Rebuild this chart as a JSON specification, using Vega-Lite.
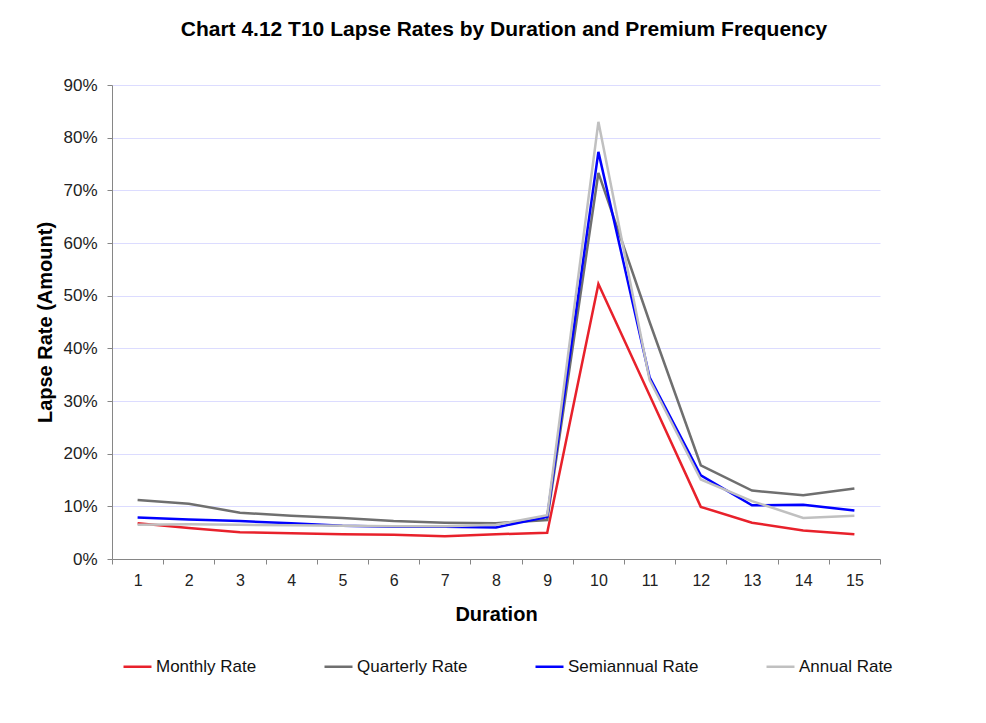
{
  "$schema": "https://vega.github.io/schema/vega-lite/v6.json",
  "width": 768,
  "height": 474,
  "autosize": {"type": "none"},
  "padding": {"left": 112, "top": 85, "right": 106, "bottom": 164},
  "background": "white",
  "view": {"stroke": null},
  "config": {"font": "Liberation Sans"},
  "title": {
    "text": "Chart 4.12 T10 Lapse Rates by Duration and Premium Frequency",
    "font": "Liberation Sans",
    "fontSize": 21,
    "fontWeight": "bold",
    "color": "#000000",
    "anchor": "middle",
    "offset": 36,
    "dx": 8
  },
  "datasets": {
    "rates": [
      {"Duration": 1, "Series": "Monthly Rate", "Rate": 0.068},
      {"Duration": 2, "Series": "Monthly Rate", "Rate": 0.059},
      {"Duration": 3, "Series": "Monthly Rate", "Rate": 0.051},
      {"Duration": 4, "Series": "Monthly Rate", "Rate": 0.049},
      {"Duration": 5, "Series": "Monthly Rate", "Rate": 0.047},
      {"Duration": 6, "Series": "Monthly Rate", "Rate": 0.046},
      {"Duration": 7, "Series": "Monthly Rate", "Rate": 0.043},
      {"Duration": 8, "Series": "Monthly Rate", "Rate": 0.047},
      {"Duration": 9, "Series": "Monthly Rate", "Rate": 0.050},
      {"Duration": 10, "Series": "Monthly Rate", "Rate": 0.522},
      {"Duration": 11, "Series": "Monthly Rate", "Rate": 0.311},
      {"Duration": 12, "Series": "Monthly Rate", "Rate": 0.099},
      {"Duration": 13, "Series": "Monthly Rate", "Rate": 0.069},
      {"Duration": 14, "Series": "Monthly Rate", "Rate": 0.054},
      {"Duration": 15, "Series": "Monthly Rate", "Rate": 0.047},
      {"Duration": 1, "Series": "Quarterly Rate", "Rate": 0.112},
      {"Duration": 2, "Series": "Quarterly Rate", "Rate": 0.105},
      {"Duration": 3, "Series": "Quarterly Rate", "Rate": 0.088},
      {"Duration": 4, "Series": "Quarterly Rate", "Rate": 0.082},
      {"Duration": 5, "Series": "Quarterly Rate", "Rate": 0.078},
      {"Duration": 6, "Series": "Quarterly Rate", "Rate": 0.072},
      {"Duration": 7, "Series": "Quarterly Rate", "Rate": 0.069},
      {"Duration": 8, "Series": "Quarterly Rate", "Rate": 0.068},
      {"Duration": 9, "Series": "Quarterly Rate", "Rate": 0.074},
      {"Duration": 10, "Series": "Quarterly Rate", "Rate": 0.733},
      {"Duration": 11, "Series": "Quarterly Rate", "Rate": 0.450},
      {"Duration": 12, "Series": "Quarterly Rate", "Rate": 0.178},
      {"Duration": 13, "Series": "Quarterly Rate", "Rate": 0.130},
      {"Duration": 14, "Series": "Quarterly Rate", "Rate": 0.121},
      {"Duration": 15, "Series": "Quarterly Rate", "Rate": 0.134},
      {"Duration": 1, "Series": "Semiannual Rate", "Rate": 0.079},
      {"Duration": 2, "Series": "Semiannual Rate", "Rate": 0.075},
      {"Duration": 3, "Series": "Semiannual Rate", "Rate": 0.072},
      {"Duration": 4, "Series": "Semiannual Rate", "Rate": 0.068},
      {"Duration": 5, "Series": "Semiannual Rate", "Rate": 0.063},
      {"Duration": 6, "Series": "Semiannual Rate", "Rate": 0.061},
      {"Duration": 7, "Series": "Semiannual Rate", "Rate": 0.061},
      {"Duration": 8, "Series": "Semiannual Rate", "Rate": 0.060},
      {"Duration": 9, "Series": "Semiannual Rate", "Rate": 0.080},
      {"Duration": 10, "Series": "Semiannual Rate", "Rate": 0.773},
      {"Duration": 11, "Series": "Semiannual Rate", "Rate": 0.345},
      {"Duration": 12, "Series": "Semiannual Rate", "Rate": 0.159},
      {"Duration": 13, "Series": "Semiannual Rate", "Rate": 0.102},
      {"Duration": 14, "Series": "Semiannual Rate", "Rate": 0.103},
      {"Duration": 15, "Series": "Semiannual Rate", "Rate": 0.092},
      {"Duration": 1, "Series": "Annual Rate", "Rate": 0.065},
      {"Duration": 2, "Series": "Annual Rate", "Rate": 0.066},
      {"Duration": 3, "Series": "Annual Rate", "Rate": 0.065},
      {"Duration": 4, "Series": "Annual Rate", "Rate": 0.064},
      {"Duration": 5, "Series": "Annual Rate", "Rate": 0.063},
      {"Duration": 6, "Series": "Annual Rate", "Rate": 0.062},
      {"Duration": 7, "Series": "Annual Rate", "Rate": 0.062},
      {"Duration": 8, "Series": "Annual Rate", "Rate": 0.065},
      {"Duration": 9, "Series": "Annual Rate", "Rate": 0.083},
      {"Duration": 10, "Series": "Annual Rate", "Rate": 0.830},
      {"Duration": 11, "Series": "Annual Rate", "Rate": 0.340},
      {"Duration": 12, "Series": "Annual Rate", "Rate": 0.151},
      {"Duration": 13, "Series": "Annual Rate", "Rate": 0.110},
      {"Duration": 14, "Series": "Annual Rate", "Rate": 0.078},
      {"Duration": 15, "Series": "Annual Rate", "Rate": 0.082}
    ]
  },
  "data": {"name": "rates"},
  "mark": {"type": "line", "strokeWidth": 2.5, "interpolate": "linear"},
  "encoding": {
    "x": {
      "field": "Duration",
      "type": "ordinal",
      "bandPosition": 0.5,
      "scale": {"type": "band", "paddingInner": 0, "paddingOuter": 0},
      "axis": {
        "title": "Duration",
        "titleFont": "Liberation Sans",
        "titleFontSize": 20,
        "titleFontWeight": "bold",
        "titleColor": "#000000",
        "titlePadding": 16,
        "labelAngle": 0,
        "labelFont": "Liberation Sans",
        "labelFontSize": 16,
        "labelColor": "#222222",
        "labelPadding": 8,
        "tickBand": "extent",
        "tickSize": 5,
        "tickColor": "#868686",
        "domainColor": "#868686",
        "grid": false
      }
    },
    "y": {
      "field": "Rate",
      "type": "quantitative",
      "scale": {"domain": [0, 0.9], "nice": false},
      "axis": {
        "title": "Lapse Rate (Amount)",
        "titleFont": "Liberation Sans",
        "titleFontSize": 20,
        "titleFontWeight": "bold",
        "titleColor": "#000000",
        "titlePadding": 7,
        "format": ".0%",
        "values": [0, 0.1, 0.2, 0.3, 0.4, 0.5, 0.6, 0.7, 0.8, 0.9],
        "labelFont": "Liberation Sans",
        "labelFontSize": 17,
        "labelColor": "#222222",
        "labelPadding": 10,
        "tickSize": 5,
        "tickColor": "#868686",
        "domainColor": "#868686",
        "grid": true,
        "gridColor": "#dcdcff",
        "gridWidth": 1
      }
    },
    "color": {
      "field": "Series",
      "type": "nominal",
      "sort": ["Monthly Rate", "Quarterly Rate", "Semiannual Rate", "Annual Rate"],
      "scale": {
        "domain": ["Monthly Rate", "Quarterly Rate", "Semiannual Rate", "Annual Rate"],
        "range": ["#e8212b", "#6f6f6f", "#0000ff", "#c0c0c0"]
      },
      "legend": {
        "title": null,
        "orient": "none",
        "legendX": 10,
        "legendY": 566,
        "direction": "horizontal",
        "symbolType": "stroke",
        "symbolSize": 784,
        "symbolStrokeWidth": 2.5,
        "labelFont": "Liberation Sans",
        "labelFontSize": 17,
        "labelColor": "#111111",
        "labelOffset": 3,
        "columnPadding": 62
      }
    }
  }
}
